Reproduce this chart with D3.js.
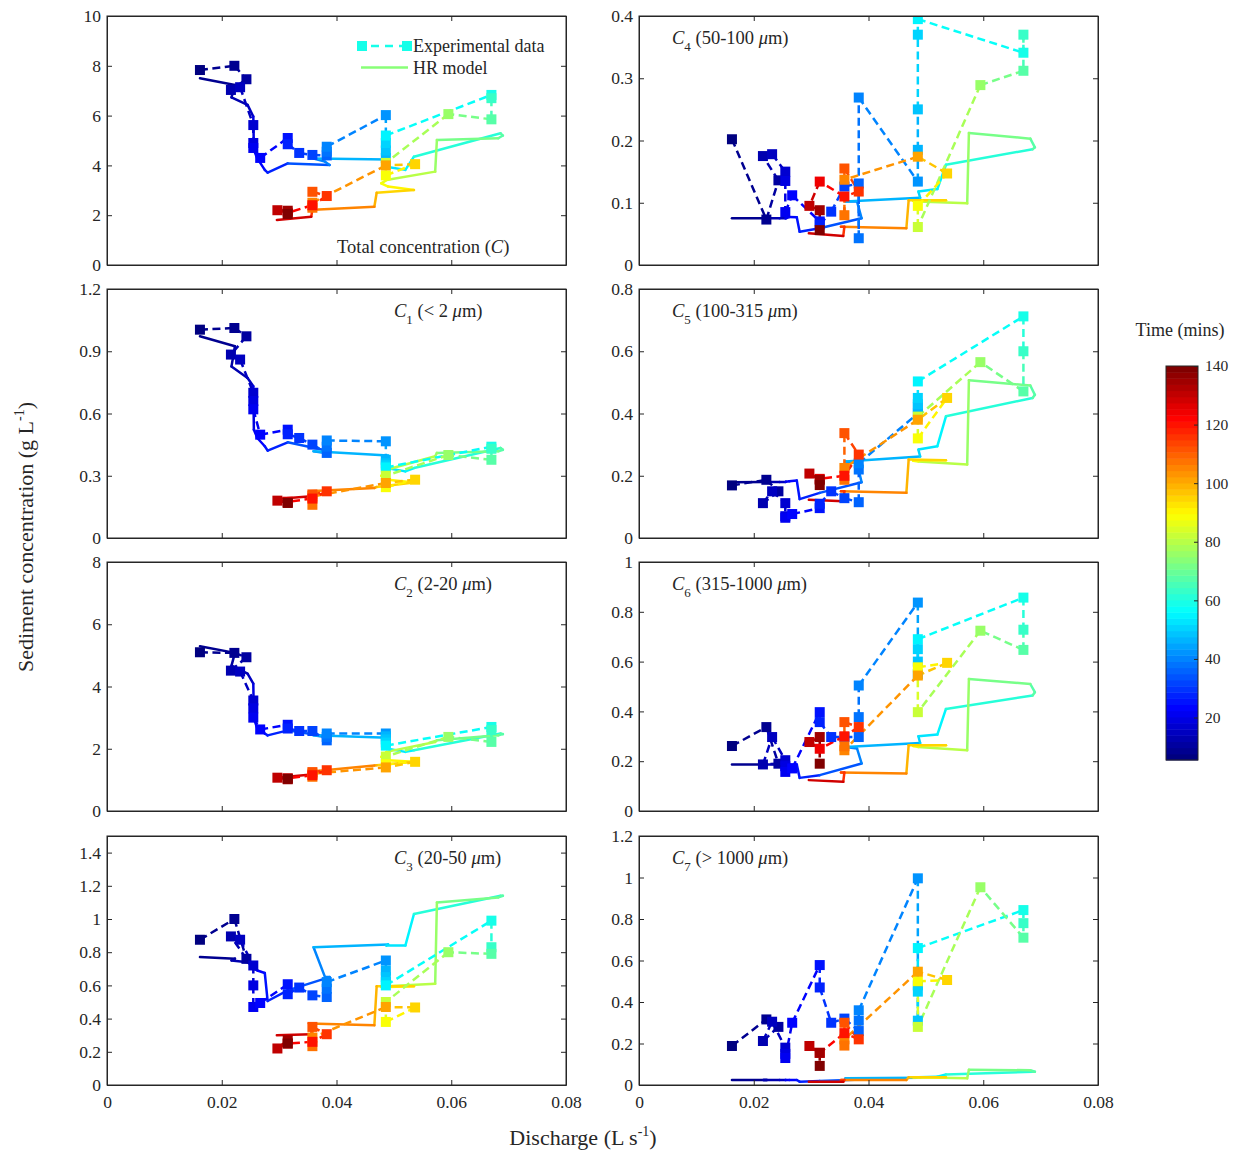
<!DOCTYPE html>
<html>
<head>
<meta charset="utf-8">
<script src="https://cdn.jsdelivr.net/npm/d3@7"></script>
<style>
body { margin: 0; background: #fff; }
svg text { font-family: "Liberation Serif", "Times New Roman", serif; fill: #262626; }
</style>
</head>
<body>
<div id="chart"></div>
<script>
// experimental samples (time in mins, discharge in L/s, concentrations in g/L)
var expTime = [6, 8, 10, 12, 14, 16, 18, 20, 22, 25, 27, 29, 32, 35, 37, 39, 42, 45, 48, 51, 54, 58, 63, 68, 75, 83, 88, 95, 101, 106, 109, 113, 117, 121, 126, 131, 135, 139];
var expQ = [0.0162, 0.0222, 0.0243, 0.0216, 0.0232, 0.0255, 0.0255, 0.0255, 0.0267, 0.0315, 0.0315, 0.0335, 0.0358, 0.0383, 0.0383, 0.0383, 0.0486, 0.0486, 0.0486, 0.0486, 0.0486, 0.067, 0.067, 0.067, 0.0595, 0.0486, 0.0486, 0.0537, 0.0486, 0.0358, 0.0358, 0.0358, 0.0383, 0.0358, 0.0315, 0.0297, 0.0315, 0.0315];
var expC = [7.83, 8.0, 7.46, 7.03, 7.14, 5.62, 4.9, 4.7, 4.3, 5.1, 4.85, 4.5, 4.42, 4.4, 4.55, 4.75, 6.02, 4.3, 4.6, 4.9, 5.2, 6.83, 6.7, 5.85, 6.06, 4.1, 3.6, 4.05, 4.0, 2.5, 2.3, 2.94, 2.77, 2.4, 2.1, 2.2, 2.18, 2.05];
var expC1 = [1.004, 1.012, 0.972, 0.884, 0.86, 0.70, 0.66, 0.62, 0.498, 0.522, 0.50, 0.482, 0.45, 0.41, 0.44, 0.47, 0.466, 0.377, 0.36, 0.35, 0.34, 0.44, 0.43, 0.377, 0.40, 0.30, 0.245, 0.281, 0.265, 0.20, 0.16, 0.21, 0.225, 0.19, 0.175, 0.18, 0.169, 0.17];
var expC2 = [5.10, 5.08, 4.94, 4.51, 4.48, 3.55, 3.3, 3.0, 2.62, 2.77, 2.65, 2.57, 2.57, 2.27, 2.38, 2.49, 2.49, 2.4, 2.3, 2.2, 2.1, 2.70, 2.6, 2.22, 2.38, 1.75, 1.5, 1.58, 1.4, 1.2, 1.1, 1.25, 1.31, 1.15, 1.05, 1.07, 1.02, 1.04];
var expC3 = [0.875, 1.0, 0.76, 0.895, 0.875, 0.72, 0.60, 0.47, 0.494, 0.607, 0.547, 0.587, 0.54, 0.53, 0.58, 0.62, 0.75, 0.69, 0.65, 0.62, 0.60, 0.99, 0.83, 0.79, 0.80, 0.50, 0.38, 0.467, 0.47, 0.286, 0.234, 0.35, 0.306, 0.26, 0.25, 0.22, 0.27, 0.25];
var expC4 = [0.202, 0.073, 0.136, 0.175, 0.178, 0.15, 0.135, 0.085, 0.112, 0.07, 0.065, 0.0857, 0.126, 0.131, 0.043, 0.269, 0.134, 0.185, 0.25, 0.37, 0.395, 0.341, 0.37, 0.312, 0.289, 0.061, 0.095, 0.147, 0.174, 0.137, 0.08, 0.155, 0.118, 0.11, 0.134, 0.095, 0.088, 0.056];
var expC5 = [0.169, 0.187, 0.15, 0.112, 0.15, 0.112, 0.07, 0.065, 0.077, 0.096, 0.11, 0.15, 0.128, 0.115, 0.22, 0.24, 0.40, 0.42, 0.43, 0.45, 0.503, 0.712, 0.60, 0.471, 0.565, 0.39, 0.32, 0.45, 0.38, 0.225, 0.187, 0.337, 0.268, 0.2, 0.19, 0.207, 0.187, 0.17];
var expC6 = [0.261, 0.337, 0.19, 0.187, 0.297, 0.204, 0.18, 0.157, 0.171, 0.397, 0.357, 0.297, 0.297, 0.297, 0.377, 0.504, 0.837, 0.55, 0.6, 0.65, 0.69, 0.857, 0.728, 0.647, 0.724, 0.397, 0.577, 0.595, 0.544, 0.244, 0.26, 0.357, 0.337, 0.3, 0.25, 0.277, 0.297, 0.19];
var expC7 = [0.188, 0.316, 0.28, 0.212, 0.305, 0.18, 0.15, 0.13, 0.30, 0.578, 0.47, 0.30, 0.32, 0.26, 0.31, 0.36, 0.996, 0.48, 0.31, 0.45, 0.66, 0.843, 0.78, 0.71, 0.953, 0.28, 0.50, 0.506, 0.546, 0.22, 0.19, 0.30, 0.22, 0.25, 0.155, 0.188, 0.155, 0.092];

// HR model trajectory
var modTime = [5.5, 9, 11, 14, 16, 20, 22, 24, 26, 29, 38, 40, 41, 49, 51, 53, 55, 66, 67, 68, 74, 76, 85, 87, 89, 93, 98, 100, 112, 116, 118, 140];
var modQ = [0.0162, 0.0223, 0.0217, 0.0245, 0.0255, 0.0256, 0.0262, 0.0275, 0.0280, 0.0315, 0.0388, 0.0380, 0.0360, 0.0490, 0.0487, 0.0520, 0.0535, 0.0686, 0.0690, 0.0682, 0.0575, 0.0572, 0.0487, 0.0478, 0.0490, 0.0535, 0.0470, 0.0466, 0.0352, 0.0358, 0.0356, 0.0296];
var modC = [7.50, 7.23, 6.73, 6.43, 5.96, 4.62, 4.28, 3.82, 3.71, 4.08, 4.02, 4.15, 4.28, 4.24, 3.95, 3.82, 4.35, 5.29, 5.2, 5.09, 5.02, 3.75, 3.41, 3.28, 3.15, 3.01, 2.90, 2.34, 2.21, 2.23, 1.94, 1.81];
var modC1 = [0.972, 0.924, 0.827, 0.771, 0.731, 0.522, 0.482, 0.442, 0.421, 0.461, 0.418, 0.41, 0.418, 0.397, 0.337, 0.321, 0.337, 0.434, 0.425, 0.418, 0.41, 0.394, 0.329, 0.30, 0.281, 0.268, 0.246, 0.241, 0.225, 0.22, 0.201, 0.188];
var modC2 = [5.29, 5.08, 4.67, 4.41, 4.09, 2.97, 2.65, 2.49, 2.43, 2.59, 2.38, 2.38, 2.43, 2.35, 2.01, 1.90, 1.95, 2.49, 2.47, 2.43, 2.27, 2.22, 1.90, 1.74, 1.63, 1.58, 1.47, 1.46, 1.26, 1.25, 1.17, 1.07];
var modC3 = [0.771, 0.761, 0.75, 0.74, 0.71, 0.70, 0.69, 0.675, 0.506, 0.57, 0.65, 0.65, 0.83, 0.847, 0.84, 0.84, 1.03, 1.14, 1.14, 1.13, 1.10, 0.61, 0.595, 0.59, 0.59, 0.595, 0.595, 0.36, 0.37, 0.37, 0.306, 0.30];
var modC4 = [0.075, 0.075, 0.075, 0.075, 0.075, 0.075, 0.077, 0.0766, 0.0535, 0.059, 0.075, 0.102, 0.102, 0.108, 0.118, 0.122, 0.161, 0.186, 0.189, 0.203, 0.212, 0.099, 0.102, 0.103, 0.104, 0.104, 0.104, 0.059, 0.0616, 0.0616, 0.0466, 0.051];
var modC5 = [0.179, 0.18, 0.18, 0.18, 0.18, 0.181, 0.182, 0.185, 0.125, 0.145, 0.179, 0.241, 0.246, 0.262, 0.284, 0.295, 0.391, 0.45, 0.46, 0.49, 0.507, 0.236, 0.246, 0.248, 0.25, 0.25, 0.252, 0.145, 0.15, 0.15, 0.118, 0.123];
var modC6 = [0.187, 0.187, 0.187, 0.187, 0.187, 0.187, 0.187, 0.187, 0.133, 0.144, 0.191, 0.251, 0.257, 0.273, 0.30, 0.307, 0.41, 0.464, 0.477, 0.51, 0.53, 0.244, 0.257, 0.261, 0.264, 0.264, 0.264, 0.151, 0.155, 0.155, 0.117, 0.124];
var modC7 = [0.024, 0.024, 0.024, 0.024, 0.024, 0.024, 0.024, 0.024, 0.016, 0.019, 0.027, 0.032, 0.032, 0.035, 0.037, 0.040, 0.051, 0.064, 0.064, 0.071, 0.074, 0.032, 0.037, 0.037, 0.037, 0.037, 0.037, 0.024, 0.024, 0.024, 0.016, 0.016];

var xTicks = [0, 0.02, 0.04, 0.06, 0.08];
var timeTicks = [20, 40, 60, 80, 100, 120, 140];
var timeRange = [5.5, 140];

var panels = [
    {exp: expC,  mod: modC,  max: 10,  step: 2,   col: 0, row: 0, label: [["Total concentration (", ""], ["C", "i"], [")", ""]]},
    {exp: expC1, mod: modC1, max: 1.2, step: 0.3, col: 0, row: 1, label: [["C", "i"], ["1", "sub"], [" (< 2 ", ""], ["\u03bc", "i"], ["m)", ""]]},
    {exp: expC2, mod: modC2, max: 8,   step: 2,   col: 0, row: 2, label: [["C", "i"], ["2", "sub"], [" (2-20 ", ""], ["\u03bc", "i"], ["m)", ""]]},
    {exp: expC3, mod: modC3, max: 1.5, step: 0.2, col: 0, row: 3, label: [["C", "i"], ["3", "sub"], [" (20-50 ", ""], ["\u03bc", "i"], ["m)", ""]]},
    {exp: expC4, mod: modC4, max: 0.4, step: 0.1, col: 1, row: 0, label: [["C", "i"], ["4", "sub"], [" (50-100 ", ""], ["\u03bc", "i"], ["m)", ""]]},
    {exp: expC5, mod: modC5, max: 0.8, step: 0.2, col: 1, row: 1, label: [["C", "i"], ["5", "sub"], [" (100-315 ", ""], ["\u03bc", "i"], ["m)", ""]]},
    {exp: expC6, mod: modC6, max: 1,   step: 0.2, col: 1, row: 2, label: [["C", "i"], ["6", "sub"], [" (315-1000 ", ""], ["\u03bc", "i"], ["m)", ""]]},
    {exp: expC7, mod: modC7, max: 1.2, step: 0.2, col: 1, row: 3, label: [["C", "i"], ["7", "sub"], [" (> 1000 ", ""], ["\u03bc", "i"], ["m)", ""]]}
];

var width = 1233, height = 1150;
var colX = [107, 639], rowY = [16, 289, 562, 836];
var pw = 459, ph = 249;
var axisColor = "#262626";
var sq = 10;

// MATLAB jet, 64 levels
function jet(v) {
    v = Math.round(Math.max(0, Math.min(1, v)) * 63) / 63;
    var c = x => Math.max(0, Math.min(1, x));
    return d3.rgb(255 * c(1.5 - Math.abs(4 * v - 3)), 255 * c(1.5 - Math.abs(4 * v - 2)), 255 * c(1.5 - Math.abs(4 * v - 1))).toString();
}
var tNorm = d3.scaleLinear().domain(timeRange).range([0, 1]).clamp(true);
var color = t => jet(tNorm(t));

var svg = d3.select("#chart").append("svg")
    .attr("width", width)
    .attr("height", height);

function addLabel(sel, parts) {
    var wasSub = false;
    parts.forEach(p => {
        var ts = sel.append("tspan").text(p[0]);
        if (p[1] == "i") ts.attr("font-style", "italic");
        if (p[1] == "sub") ts.attr("font-size", 13).attr("dy", 7);
        else if (wasSub) ts.attr("dy", -7);
        wasSub = p[1] == "sub";
    });
}

function styleAxis(g, size) {
    g.selectAll("path").attr("stroke", axisColor);
    g.selectAll("line").attr("stroke", axisColor);
    g.selectAll("text").attr("font-size", size || 17.5).attr("fill", axisColor)
        .attr("font-family", "'Liberation Serif', 'Times New Roman', serif");
}

panels.forEach(p => {
    var x0 = colX[p.col], y0 = rowY[p.row];
    var x = d3.scaleLinear().domain([0, 0.08]).range([x0, x0 + pw]);
    var y = d3.scaleLinear().domain([0, p.max]).range([y0 + ph, y0]);
    var yTicks = d3.range(0, p.max + p.step / 2, p.step).filter(v => v <= p.max + 1e-9);
    var g = svg.append("g");

    g.append("rect").attr("x", x0).attr("y", y0).attr("width", pw).attr("height", ph)
        .attr("fill", "#fff");

    var clipId = "clip" + p.col + p.row;
    g.append("clipPath").attr("id", clipId).append("rect")
        .attr("x", x0).attr("y", y0).attr("width", pw).attr("height", ph);
    var plot = g.append("g").attr("clip-path", `url(#${clipId})`);

    // model line, coloured by time
    plot.append("g").selectAll("line")
        .data(d3.range(modTime.length - 1))
        .join("line")
        .attr("x1", i => x(modQ[i])).attr("y1", i => y(p.mod[i]))
        .attr("x2", i => x(modQ[i + 1])).attr("y2", i => y(p.mod[i + 1]))
        .attr("stroke", i => color((modTime[i] + modTime[i + 1]) / 2))
        .attr("stroke-width", 2.5)
        .attr("stroke-linecap", "round");

    // experimental dashed segments
    plot.append("g").selectAll("line")
        .data(d3.range(expTime.length - 1))
        .join("line")
        .attr("x1", i => x(expQ[i])).attr("y1", i => y(p.exp[i]))
        .attr("x2", i => x(expQ[i + 1])).attr("y2", i => y(p.exp[i + 1]))
        .attr("stroke", i => color((expTime[i] + expTime[i + 1]) / 2))
        .attr("stroke-width", 2.5)
        .attr("stroke-dasharray", "8,4.5");

    plot.append("g").selectAll("rect")
        .data(d3.range(expTime.length))
        .join("rect")
        .attr("x", i => x(expQ[i]) - sq / 2).attr("y", i => y(p.exp[i]) - sq / 2)
        .attr("width", sq).attr("height", sq)
        .attr("fill", i => color(expTime[i]));

    // axes with inward ticks on all four sides
    g.append("g").attr("transform", `translate(${x0},0)`)
        .call(d3.axisLeft(y).tickValues(yTicks).tickSize(-5).tickSizeOuter(0).tickPadding(6).tickFormat(d3.format("~g")))
        .call(styleAxis);
    g.append("g").attr("transform", `translate(${x0 + pw},0)`)
        .call(d3.axisRight(y).tickValues(yTicks).tickSize(-5).tickSizeOuter(0).tickFormat(""))
        .call(styleAxis);
    g.append("g").attr("transform", `translate(0,${y0})`)
        .call(d3.axisTop(x).tickValues(xTicks).tickSize(-5).tickSizeOuter(0).tickFormat(""))
        .call(styleAxis);
    g.append("g").attr("transform", `translate(0,${y0 + ph})`)
        .call(d3.axisBottom(x).tickValues(xTicks).tickSize(-5).tickSizeOuter(0).tickPadding(11)
            .tickFormat(p.row == 3 ? (d => d == 0 ? "0" : d3.format(".2f")(d)) : ""))
        .call(styleAxis);

    g.append("rect").attr("x", x0).attr("y", y0).attr("width", pw).attr("height", ph)
        .attr("fill", "none").attr("stroke", axisColor).attr("stroke-width", 1);

    var lx = p.row == 0 && p.col == 0 ? x0 + 230 : (p.col == 0 ? x0 + 287 : x0 + 33);
    var ly = p.row == 0 && p.col == 0 ? y0 + 237 : y0 + 28;
    var t = g.append("text").attr("x", lx).attr("y", ly).attr("font-size", 18.5);
    addLabel(t, p.label);
});

// legend in first panel
var leg = svg.append("g");
var expLegColor = color(59), modLegColor = color(73);
leg.append("line").attr("x1", 362).attr("x2", 407).attr("y1", 46).attr("y2", 46)
    .attr("stroke", expLegColor).attr("stroke-width", 2.5).attr("stroke-dasharray", "8,6").attr("stroke-dashoffset", -9);
[362, 407].forEach(cx => leg.append("rect").attr("x", cx - sq / 2).attr("y", 46 - sq / 2)
    .attr("width", sq).attr("height", sq).attr("fill", expLegColor));
leg.append("text").attr("x", 413).attr("y", 52).attr("font-size", 18).text("Experimental data");
leg.append("line").attr("x1", 361).attr("x2", 408).attr("y1", 67.5).attr("y2", 67.5)
    .attr("stroke", modLegColor).attr("stroke-width", 2.5);
leg.append("text").attr("x", 413).attr("y", 73.5).attr("font-size", 18).text("HR model");

// axis titles
var yt = svg.append("text").attr("transform", "translate(33,537) rotate(-90)")
    .attr("text-anchor", "middle").attr("font-size", 22);
yt.append("tspan").text("Sediment concentration (g L");
yt.append("tspan").text("-1").attr("font-size", 14).attr("dy", -9);
yt.append("tspan").text(")").attr("dy", 9);

var xt = svg.append("text").attr("x", 583).attr("y", 1145)
    .attr("text-anchor", "middle").attr("font-size", 22);
xt.append("tspan").text("Discharge (L s");
xt.append("tspan").text("-1").attr("font-size", 14).attr("dy", -9);
xt.append("tspan").text(")").attr("dy", 9);

// colorbar
var cbX = 1166, cbW = 32, cbTop = 366, cbBottom = 760;
var cbY = d3.scaleLinear().domain(timeRange).range([cbBottom, cbTop]);
var cb = svg.append("g");
cb.selectAll("rect.band")
    .data(d3.range(64))
    .join("rect")
    .attr("class", "band")
    .attr("x", cbX).attr("width", cbW)
    .attr("y", k => cbTop + (cbBottom - cbTop) * (63 - k) / 64)
    .attr("height", (cbBottom - cbTop) / 64 + 0.5)
    .attr("fill", k => jet(k / 63));
cb.append("rect").attr("x", cbX).attr("y", cbTop).attr("width", cbW).attr("height", cbBottom - cbTop)
    .attr("fill", "none").attr("stroke", axisColor);
cb.append("g").attr("transform", `translate(${cbX + cbW},0)`)
    .call(d3.axisRight(cbY).tickValues(timeTicks).tickSize(-4).tickSizeOuter(0).tickPadding(7))
    .call(g => styleAxis(g, 15.5))
    .call(g => g.select(".domain").remove());
cb.append("text").attr("x", 1180).attr("y", 336).attr("text-anchor", "middle")
    .attr("font-size", 18).text("Time (mins)");
</script>
</body>
</html>
